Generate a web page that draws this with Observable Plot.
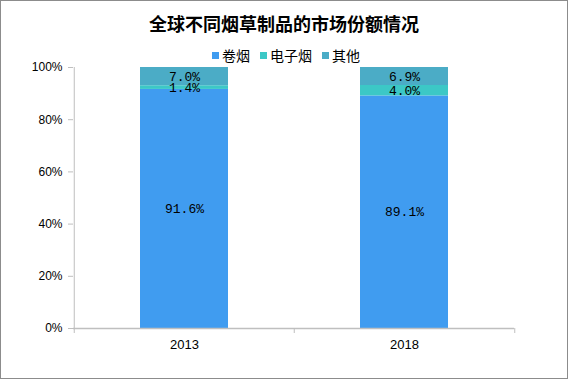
<!DOCTYPE html>
<html>
<head>
<meta charset="utf-8">
<script src="https://cdn.jsdelivr.net/npm/d3@7"></script>
<script src="https://cdn.jsdelivr.net/npm/@observablehq/plot@0.6"></script>
<style>
  html, body { margin: 0; padding: 0; background: #fff; }
  #chart { position: relative; width: 568px; height: 379px; box-sizing: border-box; border: 1px solid #8c8c8c; background: #fff; overflow: hidden; }
  #title { height: 42px; line-height: 44px; text-align: center; font-family: "Noto Sans CJK SC", sans-serif; font-weight: bold; font-size: 18px; color: #000; }
  #legend { position: absolute; left: 0; top: 44px; width: 100%; height: 20px; display: flex; justify-content: center; align-items: center; font-family: "Noto Sans CJK SC", sans-serif; font-size: 14px; color: #000; padding-left: 4px; box-sizing: border-box; }
  .item { display: flex; align-items: center; margin: 0 5px; }
  .sw { width: 7px; height: 7px; margin-right: 3px; }
  svg { display: block; }
</style>
</head>
<body>
<div id="chart">
  <div id="title">全球不同烟草制品的市场份额情况</div>
  <div id="plot"></div>
  <div id="legend"></div>
</div>
<script>
const years = ["2013", "2018"];
const categories = ["卷烟", "电子烟", "其他"];
const cigarettes = [91.6, 89.1];
const eCigarettes = [1.4, 4.0];
const others = [7.0, 6.9];
const yTicks = [0, 20, 40, 60, 80, 100];
const colors = ["#409cf0", "#3cc8c6", "#4bacc6"];

const seriesValues = [cigarettes, eCigarettes, others];
const data = [];
categories.forEach((c, ci) => {
  years.forEach((y, yi) => data.push({year: y, cat: c, value: seriesValues[ci][yi]}));
});

// legend
const legend = document.getElementById("legend");
categories.forEach((c, i) => {
  const it = document.createElement("div");
  it.className = "item";
  it.innerHTML = `<span class="sw" style="background:${colors[i]}"></span><span>${c}</span>`;
  legend.appendChild(it);
});

const width = 566, height = 335;
const ml = 72, mr = 53, mt = 24, mb = 50;
const pInner = 0.6, pOuter = 0.3;
const step = (width - ml - mr) / (years.length - pInner + 2 * pOuter);

const plot = Plot.plot({
  width, height,
  marginLeft: ml, marginRight: mr, marginTop: mt, marginBottom: mb,
  style: {fontFamily: "Liberation Sans, Arial, sans-serif", fontSize: "12px", color: "#000", background: "transparent"},
  x: {domain: years, paddingInner: pInner, paddingOuter: pOuter, label: null},
  y: {domain: [0, 100], label: null},
  color: {domain: categories, range: colors},
  marks: [
    Plot.barY(data, {x: "year", y: "value", fill: "cat", z: "cat", order: categories}),
    Plot.text(data, Plot.stackY({x: "year", y: "value", z: "cat", order: categories, text: d => d.value.toFixed(1) + "%", fontFamily: "Liberation Mono, monospace", fontSize: 13, fill: "#000"})),
    Plot.axisY(yTicks, {tickFormat: d => d + "%", tickSize: 5, tickPadding: 6, stroke: "#bfbfbf", fontSize: 12, fill: "#000"}),
    Plot.ruleX(years.slice(0, 1), {x: d => d, dx: -step / 2, y1: 0, y2: 100, stroke: "#bfbfbf"}),
    Plot.ruleY([0], {stroke: "#bfbfbf", strokeWidth: 1.5}),
    Plot.ruleX(years, {x: d => d, y1: 0, y2: 0, insetBottom: -5, dx: -step / 2, stroke: "#bfbfbf"}),
    Plot.ruleX(years.slice(-1), {x: d => d, y1: 0, y2: 0, insetBottom: -5, dx: step / 2, stroke: "#bfbfbf"}),
    Plot.axisX({tickSize: 0, tickPadding: 11, fontSize: 13, fill: "#000"})
  ]
});
document.getElementById("plot").appendChild(plot);
</script>
</body>
</html>
